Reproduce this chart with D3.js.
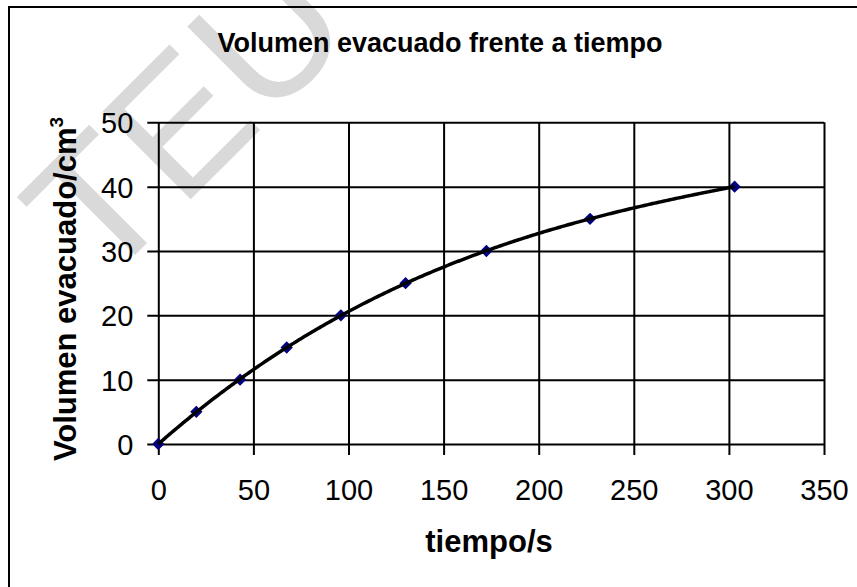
<!DOCTYPE html>
<html>
<head>
<meta charset="utf-8">
<script src="https://cdn.jsdelivr.net/npm/d3@7"></script>
<style>
  body { margin: 0; background: #fff; }
  svg { display: block; font-family: Arial, "Liberation Sans", sans-serif; }
</style>
</head>
<body>
<svg id="drawing_region"></svg>
<script>
// data
const tiempo  = [0, 20, 43, 67.5, 96, 130, 172.5, 227, 303];
const volumen = [0, 5, 10, 15, 20, 25, 30, 35, 40];
const xTicks = [0, 50, 100, 150, 200, 250, 300, 350];
const yTicks = [0, 10, 20, 30, 40, 50];
const titulo = "Volumen evacuado frente a tiempo";
const xTitulo = "tiempo/s";
const marca = "TEU";

const config = {
  width: 857,
  height: 587,
  margin: {top: 122.3, right: 33, bottom: 143, left: 158.3}
};

const svg = d3.select('#drawing_region')
  .attr('width', config.width)
  .attr('height', config.height);

const inner_width = config.width - config.margin.left - config.margin.right;
const inner_height = config.height - config.margin.top - config.margin.bottom;

// watermark behind everything
svg.append('text')
  .attr('transform', 'translate(102,288) rotate(-45)')
  .attr('font-size', 181)
  .attr('fill', '#d9d9d9')
  .text(marca);

// outer frame
svg.append('rect')
  .attr('x', 9).attr('y', 7)
  .attr('width', 860).attr('height', 600)
  .attr('fill', 'none')
  .attr('stroke', '#000')
  .attr('stroke-width', 2);

const chart = svg.append('g')
  .attr('transform', `translate(${config.margin.left}, ${config.margin.top})`);

const xscale = d3.scaleLinear().domain([0, 350]).range([0, inner_width]);
const yscale = d3.scaleLinear().domain([0, 50]).range([inner_height, 0]);

// grid + ticks
const xaxis = d3.axisBottom(xscale)
  .tickValues(xTicks)
  .tickSizeInner(-inner_height - 11)
  .tickSizeOuter(0)
  .tickPadding(56);
const yaxis = d3.axisLeft(yscale)
  .tickValues(yTicks)
  .tickSizeInner(-inner_width - 11)
  .tickSizeOuter(0)
  .tickPadding(15);

const xg = chart.append('g')
  .attr('transform', `translate(0, ${inner_height})`)
  .call(xaxis);
xg.selectAll('line').attr('transform', 'translate(0, 11)');
const yg = chart.append('g')
  .attr('transform', 'translate(-11, 0)')
  .call(yaxis);
yg.selectAll('text').attr('transform', 'translate(11, 0)');

[xg, yg].forEach(g => {
  g.select('.domain').remove();
  g.selectAll('line').attr('stroke', '#000').attr('stroke-width', 2);
  g.selectAll('text')
    .attr('font-family', 'Arial, "Liberation Sans", sans-serif')
    .attr('font-size', 29)
    .attr('fill', '#000');
});
xg.selectAll('text').attr('dy', 0);
yg.selectAll('text').attr('x', -25).attr('dy', '0.36em');

// cubic trendline, least squares on the points
function polyfit(xs, ys, order) {
  const n = order + 1;
  const A = Array.from({length: n}, () => new Array(n + 1).fill(0));
  xs.forEach((x, k) => {
    for (let i = 0; i < n; i++) {
      for (let j = 0; j < n; j++) A[i][j] += Math.pow(x, i + j);
      A[i][n] += ys[k] * Math.pow(x, i);
    }
  });
  for (let i = 0; i < n; i++) {
    let p = i;
    for (let r = i + 1; r < n; r++) if (Math.abs(A[r][i]) > Math.abs(A[p][i])) p = r;
    [A[i], A[p]] = [A[p], A[i]];
    for (let r = 0; r < n; r++) {
      if (r === i) continue;
      const f = A[r][i] / A[i][i];
      for (let c = i; c <= n; c++) A[r][c] -= f * A[i][c];
    }
  }
  return A.map((row, i) => row[n] / row[i]);
}
const coef = polyfit(tiempo, volumen, 3);
const tend = d3.range(0, 303.5, 1).map(t => [t, coef.reduce((s, c, i) => s + c * Math.pow(t, i), 0)]);

const puntos = tiempo.map((t, i) => ({t: t, v: volumen[i]}));

chart.selectAll('path.punto')
  .data(puntos)
  .join('path')
  .attr('class', 'punto')
  .attr('d', d3.symbol(d3.symbolSquare, 76))
  .attr('transform', d => `translate(${xscale(d.t)}, ${yscale(d.v)}) rotate(45)`)
  .attr('fill', '#000080');

chart.append('path')
  .datum(tend)
  .attr('fill', 'none')
  .attr('stroke', '#000')
  .attr('stroke-width', 3.5)
  .attr('d', d3.line().x(d => xscale(d[0])).y(d => yscale(d[1])));

// titles
svg.append('text')
  .attr('x', 440).attr('y', 52)
  .attr('text-anchor', 'middle')
  .attr('font-size', 27)
  .attr('font-weight', 'bold')
  .text(titulo);

svg.append('text')
  .attr('x', 489).attr('y', 552)
  .attr('text-anchor', 'middle')
  .attr('font-size', 31)
  .attr('font-weight', 'bold')
  .text(xTitulo);

const yt = svg.append('text')
  .attr('transform', 'translate(76, 289) rotate(-90)')
  .attr('text-anchor', 'middle')
  .attr('font-size', 31)
  .attr('font-weight', 'bold');
yt.append('tspan').text('Volumen evacuado/cm');
yt.append('tspan').attr('font-size', 19).attr('dy', -13).text('3');
</script>
</body>
</html>
